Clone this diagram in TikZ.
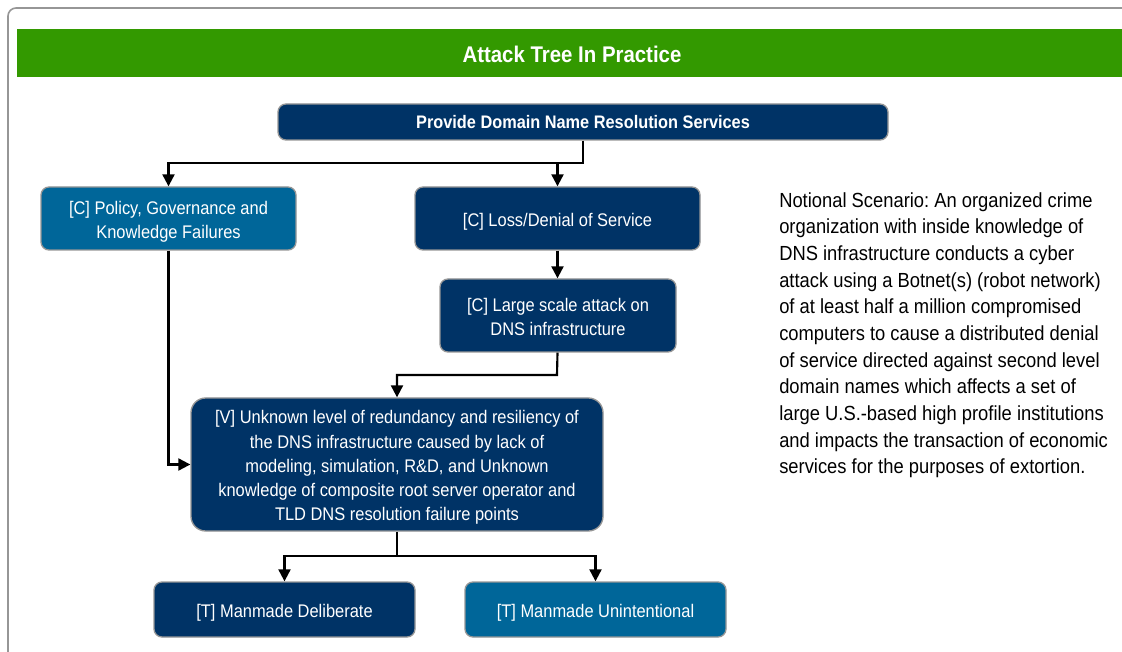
\documentclass[tikz,border=0pt]{standalone}
\usepackage{fontspec}
\setmainfont{Liberation Sans}[FakeStretch=0.9]
\usetikzlibrary{arrows.meta}
\definecolor{navy}{RGB}{0,51,102}
\definecolor{midblue}{RGB}{0,102,153}
\definecolor{tgreen}{RGB}{51,153,0}
\definecolor{bgray}{RGB}{150,150,150}
\newcommand{\boxtxt}[1]{\raisebox{-2.25pt}[\height][\depth]{\begin{tabular}{@{}c@{}}#1\end{tabular}}}
\tikzset{
  box/.style={draw=bgray, line width=1pt, rounded corners=6pt, text=white, inner sep=0pt, font=\fontsize{13.7pt}{18.2pt}\selectfont},
  navybox/.style={box, fill=navy},
  bluebox/.style={box, fill=midblue},
  arr/.style={line width=1.6pt, -{Triangle[width=9pt,length=9pt]}},
  ln/.style={line width=1.6pt}
}
\frenchspacing
\begin{document}
\frenchspacing
\begin{tikzpicture}[x=0.75pt,y=-0.75pt]
\useasboundingbox (0,0) rectangle (1122,652);
\clip (0,0) rectangle (1122,652);
\draw[bgray, line width=1.2pt, rounded corners=6pt] (8,660) -- (8,8) -- (1135,8);
\fill[tgreen] (17,29) rectangle (1130,77);
\node[text=white, font=\fontsize{17pt}{18pt}\selectfont\bfseries] (title) at (572,54) {Attack Tree In Practice};

\node[navybox, minimum width=457.5pt, minimum height=27pt, font=\fontsize{13.6pt}{14pt}\selectfont\bfseries] (root) at (583,122) {Provide Domain Name Resolution Services};
\node[bluebox, minimum width=191.25pt, minimum height=47.25pt] (pol) at (168.5,218.5) {\boxtxt{[C] Policy, Governance and\\Knowledge Failures}};
\node[navybox, minimum width=213.75pt, minimum height=47.25pt] (loss) at (557.5,218.5) {\boxtxt{[C] Loss/Denial of Service}};
\node[navybox, minimum width=177pt, minimum height=54.75pt] (large) at (558,315.5) {\boxtxt{[C] Large scale attack on\\DNS infrastructure}};
\node[navybox, rounded corners=11pt, minimum width=309pt, minimum height=99.75pt] (vul) at (397,464.5) {\boxtxt{[V] Unknown level of redundancy and resiliency of\\the DNS infrastructure caused by lack of\\modeling, simulation, R\&D, and Unknown\\knowledge of composite root server operator and\\TLD DNS resolution failure points}};
\node[navybox, minimum width=195.75pt, minimum height=41.25pt] (del) at (284.5,609.5) {\boxtxt{[T] Manmade Deliberate}};
\node[bluebox, minimum width=195.75pt, minimum height=41.25pt] (uni) at (595.5,609.5) {\boxtxt{[T] Manmade Unintentional}};

\node[anchor=north west, inner sep=0pt, align=left, font=\fontsize{15.3pt}{20pt}\selectfont] (note) at (779,192) {Notional Scenario: An organized crime\\organization with inside knowledge of\\DNS infrastructure conducts a cyber\\attack using a Botnet(s) (robot network)\\of at least half a million compromised\\computers to cause a distributed denial\\of service directed against second level\\domain names which affects a set of\\large U.S.-based high profile institutions\\and impacts the transaction of economic\\services for the purposes of extortion.};

\coordinate (j1) at (583,163);
\coordinate (j2) at (557,375);
\coordinate (j3) at (397,556);
\draw[arr] (root.south) -- (j1) -| (pol.north);
\draw[arr] (j1 -| loss.north) -- (loss.north);
\draw[arr] (loss.south) -- (large.north -| loss.south);
\draw[arr] (large.south -| loss.south) -- (j2) -| (vul.north);
\draw[arr] (pol.south) |- (vul.west);
\draw[ln] (vul.south) -- (j3);
\draw[arr] (j3) -| (del.north);
\draw[arr] (j3) -| (uni.north);
\end{tikzpicture}
\end{document}
